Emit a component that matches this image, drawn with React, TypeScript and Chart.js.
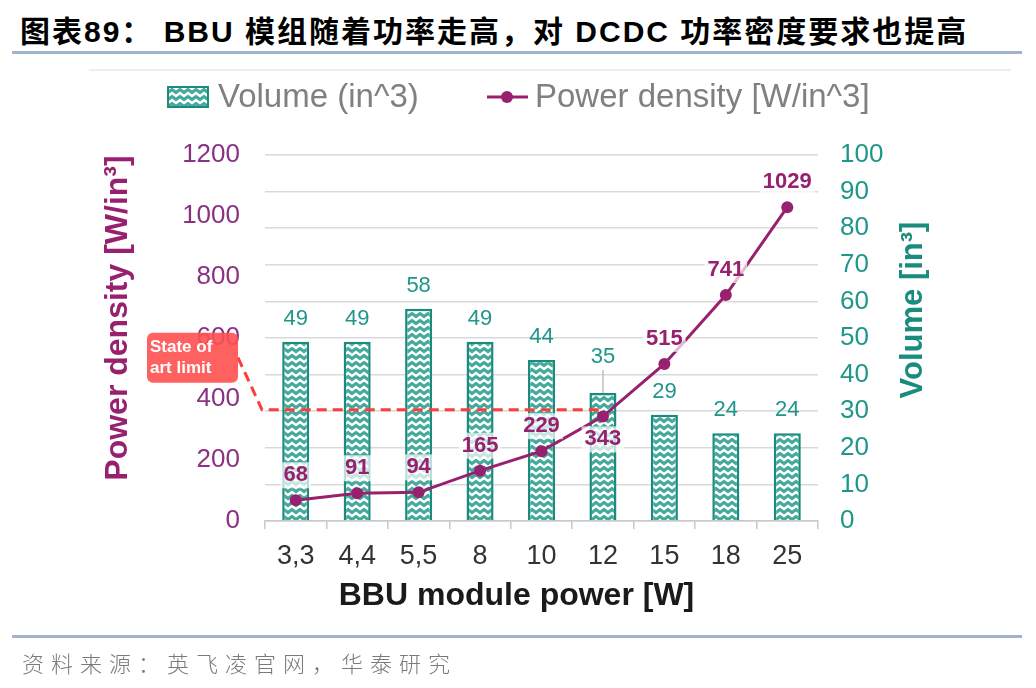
import React, { useEffect, useRef } from 'react';
import { Chart, registerables } from 'chart.js';

Chart.register(...registerables);

// chart data
const categories = ['3,3', '4,4', '5,5', '8', '10', '12', '15', '18', '25'];
const volume = [49, 49, 58, 49, 44, 35, 29, 24, 24];
const powerDensity = [68, 91, 94, 165, 229, 343, 515, 741, 1029];
const stateOfArtLimit = 365; // W/in^3
const limitEndCategory = '12';
const liftedVolumeLabel = 5; // the "35" label sits higher, with a leader
const powerLabelBelow = 5; // the "343" label sits under its point

const PURPLE = '#97206f';
const PURPLE_TICK = '#8a3184';
const TEAL = '#1a8c7d';
const TEAL_TEXT = '#1f968a';
const RED = '#ff3b3b';
const FONT = "'Liberation Sans', Arial, sans-serif";

const makePattern = (ctx: CanvasRenderingContext2D) => {
  const c = document.createElement('canvas');
  c.width = 8;
  c.height = 7;
  const p = c.getContext('2d')!;
  p.fillStyle = '#45a99b';
  p.fillRect(0, 0, 8, 7);
  p.strokeStyle = '#ffffff';
  p.lineWidth = 2.6;
  p.beginPath();
  p.moveTo(-2, 6);
  p.lineTo(0, 5);
  p.lineTo(4, 2);
  p.lineTo(8, 5);
  p.lineTo(10, 6);
  p.stroke();
  return ctx.createPattern(c, 'repeat')!;
};

const overlayPlugin = {
  id: 'overlay',
  afterDatasetDraw(chart: any, args: any) {
    if (args.index !== 1) return;
    // state-of-art dashed limit, over the bars but under the line
    const { ctx, chartArea, scales } = chart;
    const y = scales.y.getPixelForValue(stateOfArtLimit);
    const xEnd = scales.x.getPixelForValue(categories.indexOf(limitEndCategory));
    ctx.save();
    ctx.strokeStyle = RED;
    ctx.lineWidth = 3;
    ctx.setLineDash([10, 6]);
    ctx.beginPath();
    ctx.moveTo(chartArea.left - 27, y - 52);
    ctx.lineTo(chartArea.left - 3, y);
    ctx.lineTo(xEnd, y);
    ctx.stroke();
    ctx.restore();
  },
  afterDatasetsDraw(chart: any) {
    const { ctx } = chart;
    const barMeta = chart.getDatasetMeta(1);
    const lineMeta = chart.getDatasetMeta(0);
    ctx.save();
    // bar labels
    ctx.font = `22px ${FONT}`;
    ctx.fillStyle = TEAL_TEXT;
    ctx.textAlign = 'center';
    ctx.textBaseline = 'middle';
    barMeta.data.forEach((bar: any, i: number) => {
      const lift = i === liftedVolumeLabel ? 36 : 23;
      if (i === liftedVolumeLabel) {
        ctx.strokeStyle = '#bfbfbf';
        ctx.lineWidth = 1.5;
        ctx.beginPath();
        ctx.moveTo(bar.x, bar.y - lift + 13);
        ctx.lineTo(bar.x, bar.y);
        ctx.stroke();
      }
      ctx.fillText(String(volume[i]), bar.x, bar.y - lift);
    });
    // line labels
    ctx.font = `bold 22px ${FONT}`;
    lineMeta.data.forEach((pt: any, i: number) => {
      const txt = String(powerDensity[i]);
      const cy = i === powerLabelBelow ? pt.y + 23 : pt.y - 25;
      const w = ctx.measureText(txt).width;
      ctx.fillStyle = 'rgba(255,255,255,0.7)';
      ctx.fillRect(pt.x - w / 2 - 3, cy - 13, w + 6, 26);
      ctx.fillStyle = PURPLE;
      ctx.fillText(txt, pt.x, cy);
    });
    ctx.restore();
  },
  afterDraw(chart: any) {
    const { ctx, chartArea, scales } = chart;
    const midY = (chartArea.top + chartArea.bottom) / 2;
    const midX = (chartArea.left + chartArea.right) / 2;
    ctx.save();
    // axis titles
    ctx.textAlign = 'center';
    ctx.textBaseline = 'middle';
    ctx.font = `bold 32px ${FONT}`;
    ctx.fillStyle = PURPLE;
    ctx.save();
    ctx.translate(chartArea.left - 147, midY - 20);
    ctx.rotate(-Math.PI / 2);
    ctx.fillText('Power density [W/in³]', 0, 0);
    ctx.restore();
    ctx.font = `bold 31px ${FONT}`;
    ctx.fillStyle = TEAL;
    ctx.save();
    ctx.translate(chartArea.right + 95, midY - 28);
    ctx.rotate(-Math.PI / 2);
    ctx.fillText('Volume [in³]', 0, 0);
    ctx.restore();
    ctx.font = `bold 32px ${FONT}`;
    ctx.fillStyle = '#1a1a1a';
    ctx.fillText('BBU module power [W]', midX - 25, chartArea.bottom + 75);

    // state of art box
    const y = scales.y.getPixelForValue(stateOfArtLimit);
    const bx = chartArea.left - 118;
    const by = y - 77;
    ctx.fillStyle = 'rgba(255,80,80,0.9)';
    ctx.beginPath();
    ctx.roundRect(bx, by, 91, 50, 6);
    ctx.fill();
    ctx.fillStyle = '#ffffff';
    ctx.textAlign = 'left';
    ctx.font = `bold 17px ${FONT}`;
    ctx.fillText('State of', bx + 3, by + 15);
    ctx.fillText('art limit', bx + 3, by + 36);

    // legend
    ctx.font = `33px ${FONT}`;
    const ly = 97;
    ctx.fillStyle = makePattern(ctx);
    ctx.fillRect(168, ly - 10, 40, 20);
    ctx.strokeStyle = TEAL;
    ctx.lineWidth = 2;
    ctx.strokeRect(168, ly - 10, 40, 20);
    ctx.fillStyle = '#808080';
    ctx.fillText('Volume (in^3)', 218, ly + 1);
    ctx.strokeStyle = PURPLE;
    ctx.lineWidth = 3;
    ctx.beginPath();
    ctx.moveTo(487, ly);
    ctx.lineTo(528, ly);
    ctx.stroke();
    ctx.fillStyle = PURPLE;
    ctx.beginPath();
    ctx.arc(507, ly, 6, 0, Math.PI * 2);
    ctx.fill();
    ctx.fillStyle = '#808080';
    ctx.fillText('Power density [W/in^3]', 535, ly + 1);
    ctx.restore();
  },
};

const BbuChart: React.FC = () => {
  const canvasRef = useRef<HTMLCanvasElement>(null);
  const chartRef = useRef<Chart | null>(null);

  useEffect(() => {
    if (!canvasRef.current) return;
    const ctx = canvasRef.current.getContext('2d');
    if (!ctx) return;
    if (chartRef.current) chartRef.current.destroy();

    chartRef.current = new Chart(ctx, {
      type: 'bar',
      data: {
        labels: categories,
        datasets: [
          {
            type: 'line',
            label: 'Power density [W/in^3]',
            data: powerDensity,
            yAxisID: 'y',
            borderColor: PURPLE,
            backgroundColor: PURPLE,
            borderWidth: 3,
            pointRadius: 6,
            pointBackgroundColor: PURPLE,
            pointBorderWidth: 0,
            order: 0,
          },
          {
            type: 'bar',
            label: 'Volume (in^3)',
            data: volume,
            yAxisID: 'y1',
            backgroundColor: makePattern(ctx),
            borderColor: TEAL,
            borderWidth: 2.5,
            categoryPercentage: 1,
            barPercentage: 0.44,
            order: 1,
          },
        ],
      },
      options: {
        responsive: false,
        maintainAspectRatio: false,
        animation: false,
        layout: { padding: { top: 155, left: 88, right: 26, bottom: 76 } },
        plugins: {
          legend: { display: false },
          tooltip: { enabled: false },
        },
        scales: {
          x: {
            afterFit: (s: any) => { s.height = 91; },
            grid: {
              display: true,
              drawOnChartArea: false,
              offset: true,
              tickLength: 8,
              color: '#c8c8c8',
              lineWidth: 1.5,
            },
            border: { color: '#c8c8c8', width: 1.5 },
            ticks: { color: '#333333', font: { family: FONT, size: 27 }, padding: 11 },
          },
          y: {
            position: 'left',
            min: 0,
            max: 1200,
            afterFit: (s: any) => { s.width = 177; },
            grid: { display: false, drawTicks: false },
            border: { display: false },
            ticks: {
              stepSize: 200,
              color: PURPLE_TICK,
              font: { family: FONT, size: 26 },
              padding: 25,
              callback: (v: any) => String(v),
            },
          },
          y1: {
            position: 'right',
            min: 0,
            max: 100,
            afterFit: (s: any) => { s.width = 192; },
            grid: { color: '#d9d9d9', lineWidth: 1.5, drawTicks: false },
            border: { display: false },
            ticks: {
              stepSize: 10,
              color: TEAL_TEXT,
              font: { family: FONT, size: 26 },
              padding: 22,
              callback: (v: any) => String(v),
            },
          },
        },
      },
      plugins: [overlayPlugin],
    });

    return () => {
      if (chartRef.current) {
        chartRef.current.destroy();
        chartRef.current = null;
      }
    };
  }, []);

  return <canvas ref={canvasRef} width={1036} height={688} style={{ position: 'absolute', left: 0, top: 0 }}></canvas>;
};

export default function App() {
  return (
    <div style={{ position: 'absolute', left: 0, top: 0, width: 1036, height: 688, background: '#fff', overflow: 'hidden' }}>
      <div
        style={{
          position: 'absolute',
          left: 20,
          top: 16,
          fontFamily: "'Liberation Sans', 'Noto Sans CJK SC', sans-serif",
          fontWeight: 'bold',
          fontSize: 30,
          lineHeight: '32px',
          letterSpacing: 2,
          color: '#000',
          whiteSpace: 'nowrap',
        }}
      >
        图表89： BBU 模组随着功率走高，对 DCDC 功率密度要求也提高
      </div>
      <div style={{ position: 'absolute', left: 12, top: 51, width: 1010, height: 3, background: '#9fb3cb' }} />
      <div style={{ position: 'absolute', left: 89, top: 69, width: 922, height: 2, background: '#eeeeee' }} />
      <BbuChart />
      <div style={{ position: 'absolute', left: 12, top: 635, width: 1010, height: 3, background: '#9fb3cb' }} />
      <div
        style={{
          position: 'absolute',
          left: 22,
          top: 648,
          fontFamily: "'Noto Sans CJK SC', sans-serif",
          fontWeight: 300,
          fontSize: 22,
          lineHeight: '28px',
          letterSpacing: 7,
          color: '#7a7a7a',
          whiteSpace: 'nowrap',
        }}
      >
        资料来源：英飞凌官网，华泰研究
      </div>
    </div>
  );
}
